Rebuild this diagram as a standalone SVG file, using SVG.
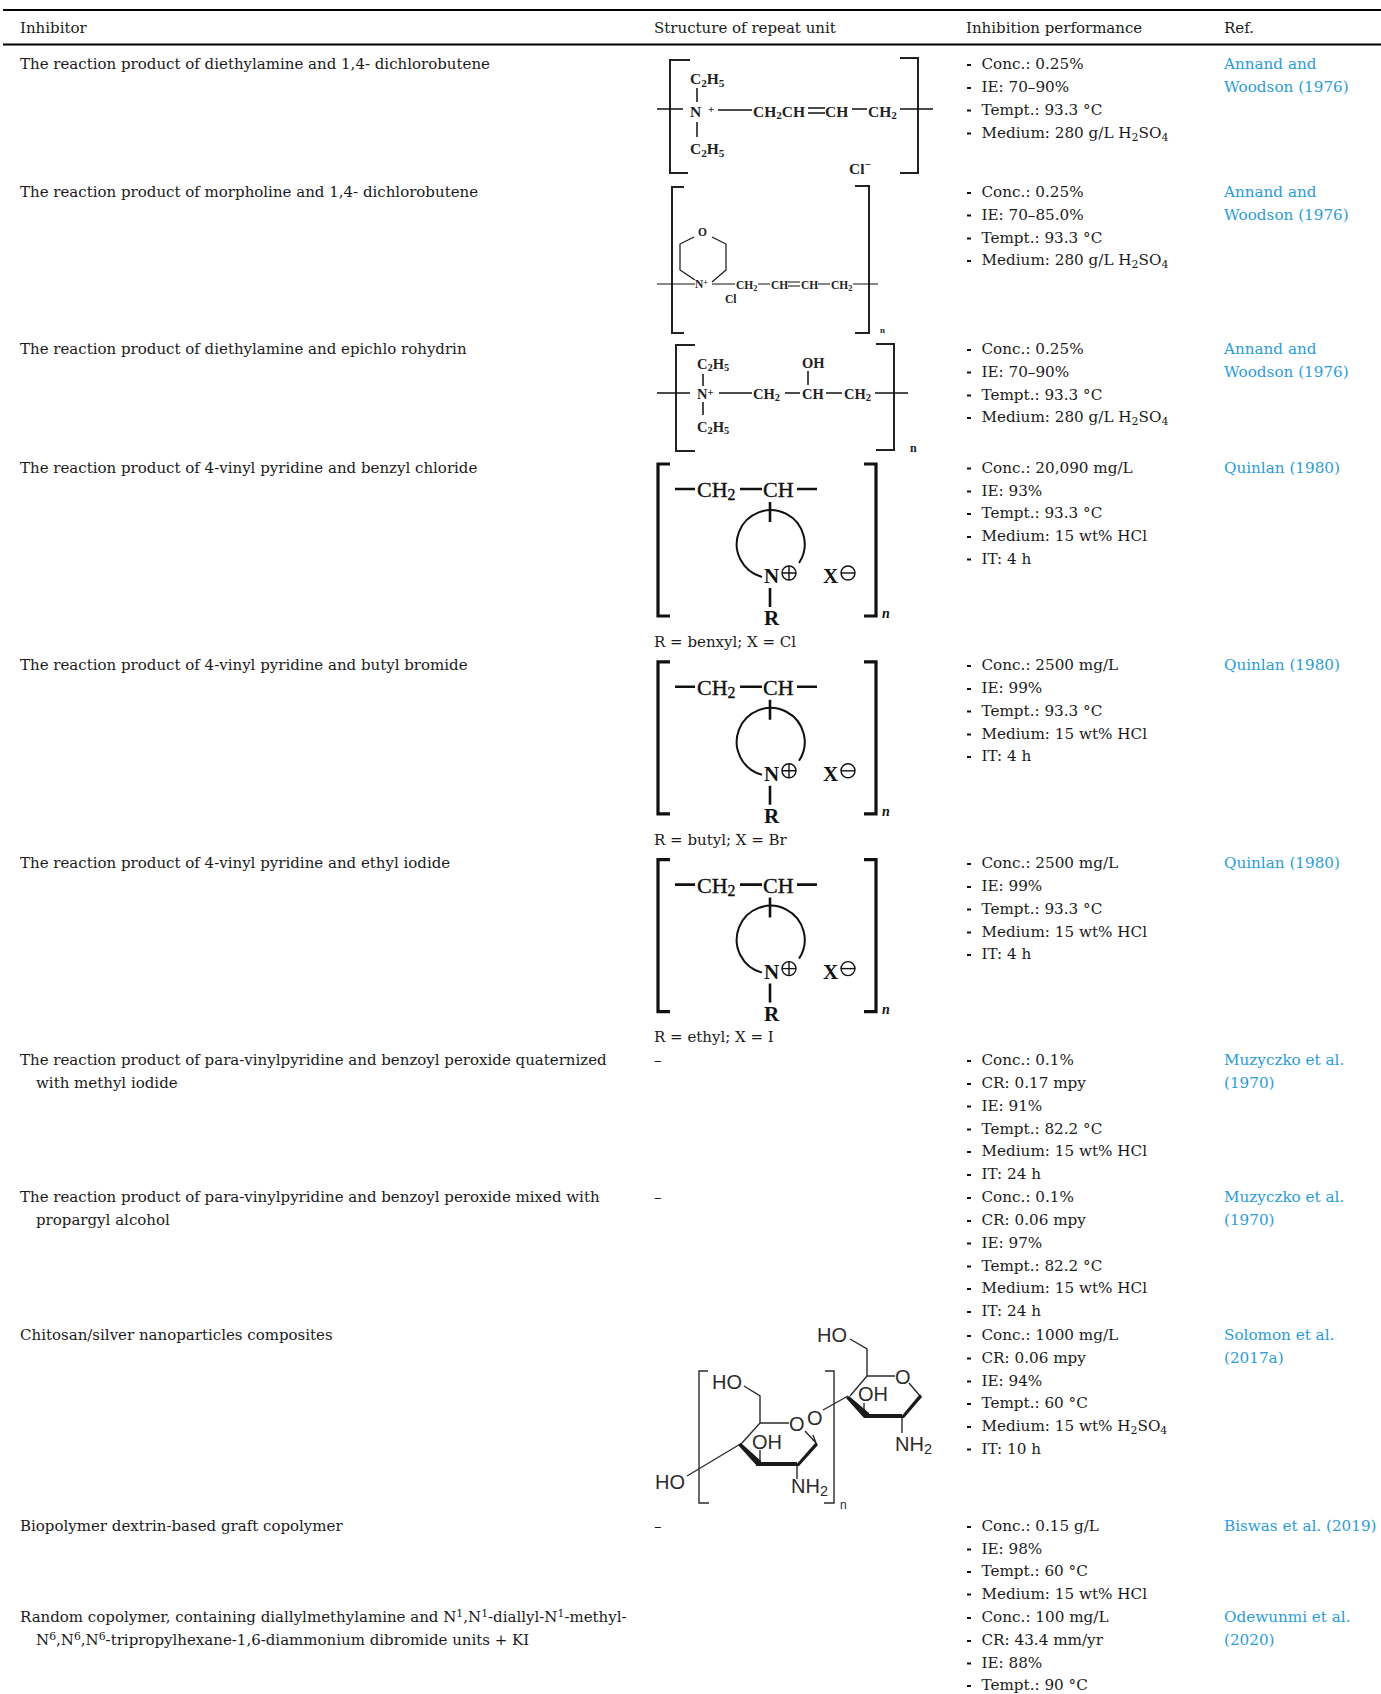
<svg xmlns="http://www.w3.org/2000/svg" width="1381" height="1694" viewBox="0 0 1381 1694">
<style>
text{font-family:"DejaVu Serif","Liberation Serif",serif;font-size:15px;fill:#1a1a1a}
#col-performance text,#col-ref text{font-size:15.2px}
.ref{fill:#2b9cd8}
.ln{fill:none;stroke:#111;stroke-width:1.5}
.br{fill:none;stroke:#222;stroke-width:2}
.br2{fill:none;stroke:#111;stroke-width:3.2}
.ch text{font-family:"Liberation Serif",serif;font-weight:bold;font-size:15.5px;fill:#222}
.ch2 text{font-family:"Liberation Serif",serif;font-size:11.5px;font-weight:bold;fill:#222}
.ch2b text{font-family:"Liberation Serif",serif;font-size:14.5px;font-weight:bold;fill:#222}
.ch3 text{font-family:"Liberation Serif",serif;font-size:21px;font-weight:bold;fill:#111}
.ch3 .sn{font-size:22px;font-weight:normal;stroke:#111;stroke-width:.35}
.s{font-size:.72em}
.su text{font-family:"Liberation Sans",sans-serif;font-size:20px;fill:#2b2b2b;font-weight:normal}
.sl{fill:none;stroke:#2b2b2b;stroke-width:1.4}
.w{fill:#1a1a1a;stroke:none}
</style>
<g id="rules"><rect x="3" y="9" width="1378" height="2" fill="#000"/><rect x="3" y="43.5" width="1378" height="2" fill="#000"/></g>
<g id="header"><text x="20" y="33">Inhibitor</text><text x="654" y="33">Structure of repeat unit</text><text x="966" y="33">Inhibition performance</text><text x="1224" y="33">Ref.</text></g>

<g id="col-inhibitor">
<text x="20" y="69">The reaction product of diethylamine and 1,4- dichlorobutene</text>
<text x="20" y="197">The reaction product of morpholine and 1,4- dichlorobutene</text>
<text x="20" y="354">The reaction product of diethylamine and epichlo rohydrin</text>
<text x="20" y="472.5">The reaction product of 4-vinyl pyridine and benzyl chloride</text>
<text x="20" y="670">The reaction product of 4-vinyl pyridine and butyl bromide</text>
<text x="20" y="868">The reaction product of 4-vinyl pyridine and ethyl iodide</text>
<text x="20" y="1065">The reaction product of para-vinylpyridine and benzoyl peroxide quaternized</text>
<text x="36" y="1088">with methyl iodide</text>
<text x="20" y="1202">The reaction product of para-vinylpyridine and benzoyl peroxide mixed with</text>
<text x="36" y="1225">propargyl alcohol</text>
<text x="20" y="1340">Chitosan/silver nanoparticles composites</text>
<text x="20" y="1531">Biopolymer dextrin-based graft copolymer</text>
<text x="20" y="1622">Random copolymer, containing diallylmethylamine and N<tspan dy="-5" class="s">1</tspan><tspan dy="5">,N</tspan><tspan dy="-5" class="s">1</tspan><tspan dy="5">-diallyl-N</tspan><tspan dy="-5" class="s">1</tspan><tspan dy="5">-methyl-</tspan></text>
<text x="36" y="1645">N<tspan dy="-5" class="s">6</tspan><tspan dy="5">,N</tspan><tspan dy="-5" class="s">6</tspan><tspan dy="5">,N</tspan><tspan dy="-5" class="s">6</tspan><tspan dy="5">-tripropylhexane-1,6-diammonium dibromide units + KI</tspan></text>
</g>

<g id="col-structure-text">
<text x="654" y="647">R = benxyl; X = Cl</text>
<text x="654" y="845">R = butyl; X = Br</text>
<text x="654" y="1042">R = ethyl; X = I</text>
<text x="654" y="1065">–</text>
<text x="654" y="1202">–</text>
<text x="654" y="1531">–</text>
</g>

<g id="struct-1" class="ch">
<path class="br" d="M690 60H670V173H688M900 58H918V173H900"/>
<path class="ln" d="M657 109H683M718 110H752M697 88V102M697 122V137M852 109H867M900 109H933M808 108H825M808 113H825"/>
<text x="690" y="117">N</text><text x="708" y="113" style="font-size:11px">+</text>
<text x="690" y="84">C<tspan class="s" dy="3">2</tspan><tspan dy="-3">H</tspan><tspan class="s" dy="3">5</tspan></text>
<text x="690" y="154">C<tspan class="s" dy="3">2</tspan><tspan dy="-3">H</tspan><tspan class="s" dy="3">5</tspan></text>
<text x="753" y="117">CH<tspan class="s" dy="2">2</tspan><tspan dy="-2">CH</tspan></text>
<text x="825" y="117">CH</text>
<text x="868" y="117">CH<tspan class="s" dy="2">2</tspan></text>
<text x="849" y="174">Cl<tspan class="s" dy="-6">−</tspan></text>
</g>

<g id="struct-2" class="ch2">
<path class="br" d="M684 187H672V333H684M855 186H869V333H855"/>
<path class="ln" style="stroke-width:1.2" d="M657 284H695M712 284H735M758 284H770M788 282H800M788 286H800M818 284H830M853 284H878M694 237L680 244V270L695 280M712 237L726 244V270L712 282"/>
<text x="698" y="236">O</text>
<text x="695" y="288">N<tspan class="s" dy="-3">+</tspan></text>
<text x="736" y="289">CH<tspan class="s" dy="2">2</tspan></text>
<text x="771" y="289">CH</text><text x="801" y="289">CH</text>
<text x="831" y="289">CH<tspan class="s" dy="2">2</tspan></text>
<text x="725" y="303">Cl</text><text x="880" y="333" style="font-size:9px">n</text>
</g>

<g id="struct-3" class="ch2b">
<path class="br" d="M695 345H676V451H695M876 344H894V450H876"/>
<path class="ln" d="M657 393H690M719 393H752M785 393H800M826 393H842M875 393H908M808 371V385M703 374V386M703 402V415"/>
<text x="697" y="399">N<tspan class="s" dy="-3">+</tspan></text>
<text x="753" y="399">CH<tspan class="s" dy="2">2</tspan></text>
<text x="802" y="399">CH</text>
<text x="844" y="399">CH<tspan class="s" dy="2">2</tspan></text>
<text x="802" y="368">OH</text>
<text x="697" y="369">C<tspan class="s" dy="2">2</tspan><tspan dy="-2">H</tspan><tspan class="s" dy="2">5</tspan></text>
<text x="697" y="432">C<tspan class="s" dy="2">2</tspan><tspan dy="-2">H</tspan><tspan class="s" dy="2">5</tspan></text>
<text x="910" y="452" style="font-size:12px">n</text>
</g>

<g id="struct-4" class="ch3">
<path class="br2" d="M670 464H658V616H670M864 464H876V616H864"/>
<path class="ln" style="stroke-width:2.6" d="M675 489H695M740 489H762M797 489H817M770 502V522M770 588V607"/>
<path class="ln" style="stroke-width:2" d="M762 577A34 34 0 1 1 799 563"/>
<circle class="ln" style="stroke-width:1.4" cx="789" cy="573" r="7"/><path class="ln" style="stroke-width:1.4" d="M782 573H796M789 566V580"/>
<circle class="ln" style="stroke-width:1.4" cx="848" cy="573" r="7"/><path class="ln" style="stroke-width:1.4" d="M841 573H855"/>
<text class="sn" x="697" y="497">CH<tspan class="s" dy="3">2</tspan></text><text class="sn" x="763" y="497">CH</text>
<text x="764" y="583">N</text><text x="823" y="583">X</text><text x="764" y="625">R</text>
<text x="882" y="618" style="font-size:14px;font-style:italic">n</text>
</g>

<g id="struct-5" class="ch3" transform="translate(0 197.8)">
<path class="br2" d="M670 464H658V616H670M864 464H876V616H864"/>
<path class="ln" style="stroke-width:2.6" d="M675 489H695M740 489H762M797 489H817M770 502V522M770 588V607"/>
<path class="ln" style="stroke-width:2" d="M762 577A34 34 0 1 1 799 563"/>
<circle class="ln" style="stroke-width:1.4" cx="789" cy="573" r="7"/><path class="ln" style="stroke-width:1.4" d="M782 573H796M789 566V580"/>
<circle class="ln" style="stroke-width:1.4" cx="848" cy="573" r="7"/><path class="ln" style="stroke-width:1.4" d="M841 573H855"/>
<text class="sn" x="697" y="497">CH<tspan class="s" dy="3">2</tspan></text><text class="sn" x="763" y="497">CH</text>
<text x="764" y="583">N</text><text x="823" y="583">X</text><text x="764" y="625">R</text>
<text x="882" y="618" style="font-size:14px;font-style:italic">n</text>
</g>

<g id="struct-6" class="ch3" transform="translate(0 395.6)">
<path class="br2" d="M670 464H658V616H670M864 464H876V616H864"/>
<path class="ln" style="stroke-width:2.6" d="M675 489H695M740 489H762M797 489H817M770 502V522M770 588V607"/>
<path class="ln" style="stroke-width:2" d="M762 577A34 34 0 1 1 799 563"/>
<circle class="ln" style="stroke-width:1.4" cx="789" cy="573" r="7"/><path class="ln" style="stroke-width:1.4" d="M782 573H796M789 566V580"/>
<circle class="ln" style="stroke-width:1.4" cx="848" cy="573" r="7"/><path class="ln" style="stroke-width:1.4" d="M841 573H855"/>
<text class="sn" x="697" y="497">CH<tspan class="s" dy="3">2</tspan></text><text class="sn" x="763" y="497">CH</text>
<text x="764" y="583">N</text><text x="823" y="583">X</text><text x="764" y="625">R</text>
<text x="882" y="618" style="font-size:14px;font-style:italic">n</text>
</g>

<g id="struct-9" class="su">
<path class="sl" d="M708 1371H699V1503H709M825 1371H834V1503H824"/>
<path class="sl" d="M744 1386L760 1396V1423M760 1423H789M760 1423L742 1443M757 1464L797 1464M797 1464V1479M760 1464V1450M816 1443L805 1431M816 1443L813 1435M742 1443L687 1476M823 1410L848 1396"/>
<path class="sl" d="M850 1396L867 1376H895M867 1376V1349L850 1339M864 1416V1403M902 1416V1433M920 1396L909 1383"/>
<path class="w" d="M741 1443L761 1461V1466L757 1466L738 1445ZM756 1462H797V1466H756ZM795 1466L816 1442L818 1445L799 1466ZM849 1396L869 1413V1418H864L846 1398ZM864 1414H902V1418H864ZM900 1418L920 1394L922 1397L904 1418Z"/>
<text x="817" y="1342">HO</text><text x="712" y="1389">HO</text><text x="789" y="1431">O</text><text x="807" y="1425">O</text>
<text x="752" y="1449">OH</text><text x="655" y="1489">HO</text><text x="791" y="1493">NH<tspan class="s" dy="3">2</tspan></text>
<text x="840" y="1509" style="font-size:12px">n</text><text x="895" y="1384">O</text><text x="858" y="1401">OH</text>
<text x="895" y="1451">NH<tspan class="s" dy="3">2</tspan></text>
</g>

<g id="col-performance">
<text x="981.5" y="69">Conc.: 0.25%</text><text x="981.5" y="92">IE: 70–90%</text><text x="981.5" y="114.5">Tempt.: 93.3 °C</text><text x="981.5" y="137.5">Medium: 280 g/L H<tspan class="s" dy="3">2</tspan><tspan dy="-3">SO</tspan><tspan class="s" dy="3">4</tspan></text>
<text x="981.5" y="197">Conc.: 0.25%</text><text x="981.5" y="219.5">IE: 70–85.0%</text><text x="981.5" y="242.5">Tempt.: 93.3 °C</text><text x="981.5" y="265">Medium: 280 g/L H<tspan class="s" dy="3">2</tspan><tspan dy="-3">SO</tspan><tspan class="s" dy="3">4</tspan></text>
<text x="981.5" y="354">Conc.: 0.25%</text><text x="981.5" y="376.5">IE: 70–90%</text><text x="981.5" y="399.5">Tempt.: 93.3 °C</text><text x="981.5" y="422">Medium: 280 g/L H<tspan class="s" dy="3">2</tspan><tspan dy="-3">SO</tspan><tspan class="s" dy="3">4</tspan></text>
<text x="981.5" y="472.5">Conc.: 20,090 mg/L</text><text x="981.5" y="495.5">IE: 93%</text><text x="981.5" y="518">Tempt.: 93.3 °C</text><text x="981.5" y="541">Medium: 15 wt% HCl</text><text x="981.5" y="563.5">IT: 4 h</text>
<text x="981.5" y="670">Conc.: 2500 mg/L</text><text x="981.5" y="693">IE: 99%</text><text x="981.5" y="715.5">Tempt.: 93.3 °C</text><text x="981.5" y="738.5">Medium: 15 wt% HCl</text><text x="981.5" y="761">IT: 4 h</text>
<text x="981.5" y="868">Conc.: 2500 mg/L</text><text x="981.5" y="891">IE: 99%</text><text x="981.5" y="913.5">Tempt.: 93.3 °C</text><text x="981.5" y="936.5">Medium: 15 wt% HCl</text><text x="981.5" y="959">IT: 4 h</text>
<text x="981.5" y="1065">Conc.: 0.1%</text><text x="981.5" y="1088">CR: 0.17 mpy</text><text x="981.5" y="1110.5">IE: 91%</text><text x="981.5" y="1133.5">Tempt.: 82.2 °C</text><text x="981.5" y="1156">Medium: 15 wt% HCl</text><text x="981.5" y="1179">IT: 24 h</text>
<text x="981.5" y="1202">Conc.: 0.1%</text><text x="981.5" y="1225">CR: 0.06 mpy</text><text x="981.5" y="1247.5">IE: 97%</text><text x="981.5" y="1270.5">Tempt.: 82.2 °C</text><text x="981.5" y="1293">Medium: 15 wt% HCl</text><text x="981.5" y="1316">IT: 24 h</text>
<text x="981.5" y="1340">Conc.: 1000 mg/L</text><text x="981.5" y="1362.5">CR: 0.06 mpy</text><text x="981.5" y="1385.5">IE: 94%</text><text x="981.5" y="1408">Tempt.: 60 °C</text><text x="981.5" y="1431">Medium: 15 wt% H<tspan class="s" dy="3">2</tspan><tspan dy="-3">SO</tspan><tspan class="s" dy="3">4</tspan></text><text x="981.5" y="1453.5">IT: 10 h</text>
<text x="981.5" y="1531">Conc.: 0.15 g/L</text><text x="981.5" y="1553.5">IE: 98%</text><text x="981.5" y="1576">Tempt.: 60 °C</text><text x="981.5" y="1598.5">Medium: 15 wt% HCl</text>
<text x="981.5" y="1622">Conc.: 100 mg/L</text><text x="981.5" y="1645">CR: 43.4 mm/yr</text><text x="981.5" y="1667.5">IE: 88%</text><text x="981.5" y="1690">Tempt.: 90 °C</text>
<path d="M967 64h4v2h-4zM967 87h4v2h-4zM967 109.500h4v2h-4zM967 132.500h4v2h-4zM967 192h4v2h-4zM967 214.500h4v2h-4zM967 237.500h4v2h-4zM967 260h4v2h-4zM967 349h4v2h-4zM967 371.500h4v2h-4zM967 394.500h4v2h-4zM967 417h4v2h-4zM967 467.500h4v2h-4zM967 490.500h4v2h-4zM967 513h4v2h-4zM967 536h4v2h-4zM967 558.500h4v2h-4zM967 665h4v2h-4zM967 688h4v2h-4zM967 710.500h4v2h-4zM967 733.500h4v2h-4zM967 756h4v2h-4zM967 863h4v2h-4zM967 886h4v2h-4zM967 908.500h4v2h-4zM967 931.500h4v2h-4zM967 954h4v2h-4zM967 1060h4v2h-4zM967 1083h4v2h-4zM967 1105.500h4v2h-4zM967 1128.500h4v2h-4zM967 1151h4v2h-4zM967 1174h4v2h-4zM967 1197h4v2h-4zM967 1220h4v2h-4zM967 1242.500h4v2h-4zM967 1265.500h4v2h-4zM967 1288h4v2h-4zM967 1311h4v2h-4zM967 1335h4v2h-4zM967 1357.500h4v2h-4zM967 1380.500h4v2h-4zM967 1403h4v2h-4zM967 1426h4v2h-4zM967 1448.500h4v2h-4zM967 1526h4v2h-4zM967 1548.500h4v2h-4zM967 1571h4v2h-4zM967 1593.500h4v2h-4zM967 1617h4v2h-4zM967 1640h4v2h-4zM967 1662.500h4v2h-4zM967 1685h4v2h-4z" fill="#111"/>
</g>

<g id="col-ref">
<text class="ref" x="1224" y="69">Annand and</text><text class="ref" x="1224" y="92">Woodson (1976)</text>
<text class="ref" x="1224" y="197">Annand and</text><text class="ref" x="1224" y="219.500">Woodson (1976)</text>
<text class="ref" x="1224" y="354">Annand and</text><text class="ref" x="1224" y="376.500">Woodson (1976)</text>
<text class="ref" x="1224" y="472.5">Quinlan (1980)</text><text class="ref" x="1224" y="670">Quinlan (1980)</text><text class="ref" x="1224" y="868">Quinlan (1980)</text>
<text class="ref" x="1224" y="1065">Muzyczko et al.</text><text class="ref" x="1224" y="1088">(1970)</text>
<text class="ref" x="1224" y="1202">Muzyczko et al.</text><text class="ref" x="1224" y="1225">(1970)</text>
<text class="ref" x="1224" y="1340">Solomon et al.</text><text class="ref" x="1224" y="1362.500">(2017a)</text>
<text class="ref" x="1224" y="1531">Biswas et al. (2019)</text>
<text class="ref" x="1224" y="1622">Odewunmi et al.</text><text class="ref" x="1224" y="1645">(2020)</text>
</g>
</svg>
